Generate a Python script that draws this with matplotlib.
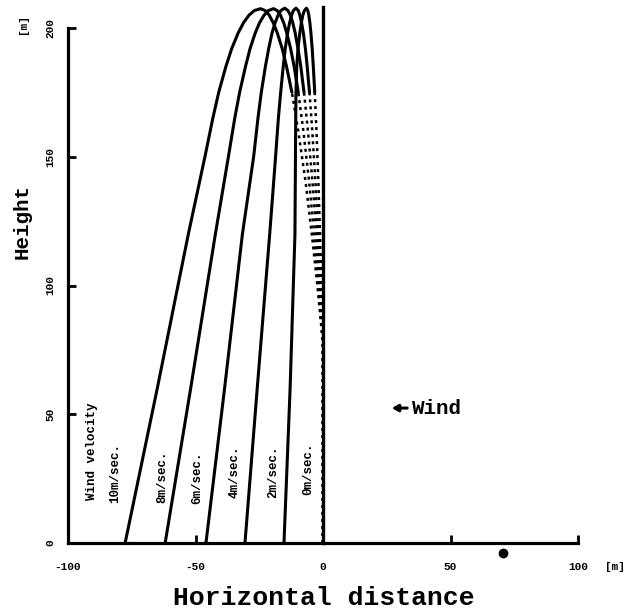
import numpy as np
import matplotlib
matplotlib.use("Agg")
import matplotlib.pyplot as plt

FONT = ["Liberation Mono", "DejaVu Sans Mono"]

# ---- data (metres) ----
wind_labels = ["10m/sec.", "8m/sec.", "6m/sec.", "4m/sec.", "2m/sec.", "0m/sec."]

# summits of the trajectories
peak_x = [-24.5, -19.4, -15.0, -10.6, -6.5]
peak_h = [207.5, 207.5, 207.7, 207.7, 207.7]

# descending (solid) branches: heights and horizontal positions
fall_h = [0, 60, 120, 150, 165, 175, 185, 192, 198, 202, 205, 206.8]
fall_x_10 = [-77.6, -65.0, -52.8, -46.3, -43.2, -40.9, -38.1, -35.8, -33.3, -31.2, -29.0, -26.9]
fall_x_8 = [-61.9, -51.9, -42.2, -37.1, -34.6, -32.7, -30.4, -28.6, -26.6, -24.9, -23.1, -21.35]
fall_x_6 = [-45.9, -38.6, -31.6, -27.2, -25.5, -24.2, -22.6, -21.3, -20.0, -18.8, -17.6, -16.5]
fall_x_4 = [-30.6, -25.8, -20.9, -18.6, -17.5, -16.6, -15.6, -14.8, -13.9, -13.1, -12.3, -11.6]
fall_x_2 = [-15.3, -12.9, -11.0, -10.8, -10.7, -10.6, -10.3, -9.8, -9.1, -8.5, -7.9, -7.3]

# ascending branches (hugging the launch pole, dotted low down)
rise_h = [0, 77, 100, 120, 140, 160, 175, 185, 192, 198, 202, 205, 206.8]
rise_x_10 = [0, 0, -2.2, -4.4, -6.8, -9.7, -12.2, -14.3, -16.0, -17.9, -19.5, -21.1, -22.7]
rise_x_8 = [0, 0, -1.8, -3.5, -5.4, -7.7, -9.7, -11.3, -12.7, -14.2, -15.4, -16.7, -18.0]
rise_x_6 = [0, 0, -1.3, -2.6, -4.1, -5.9, -7.45, -8.7, -9.8, -10.9, -11.85, -12.8, -13.75]
rise_x_4 = [0, 0, -0.95, -1.9, -2.95, -4.2, -5.3, -6.2, -6.9, -7.7, -8.4, -9.1, -9.7]
rise_x_2 = [0, 0, -0.58, -1.16, -1.8, -2.56, -3.24, -3.8, -4.24, -4.73, -5.14, -5.56, -5.96]

# zero wind: straight up and down
zero_h = [0, 208]
zero_x = [0, 0]

# label positions (x, h)
label_x = [-81.6, -63.1, -49.5, -34.5, -19.6, -5.9]
label_h = [27.2, 25.8, 25.4, 27.7, 27.7, 28.9]

x_ticks = [-100, -50, 0, 50, 100]
x_ticklabels = ["-100", "-50", "0", "50", "100"]
y_ticks = [0, 50, 100, 150, 200]
y_ticklabels = ["0", "50", "100", "150", "200"]

stray_dot = (70.6, -4.0)

# ---- figure ----
fig = plt.figure(figsize=(6.3, 6.14), dpi=100)
ax = fig.add_axes([68 / 630, 1 - 543 / 614, 510 / 630, 515 / 614])
ax.set_xlim(-100, 100)
ax.set_ylim(0, 200)

for s in ["top", "right"]:
    ax.spines[s].set_visible(False)
for s in ["left", "bottom"]:
    ax.spines[s].set_linewidth(2.3)

lw = 2.2
falls = [fall_x_10, fall_x_8, fall_x_6, fall_x_4, fall_x_2]
rises = [rise_x_10, rise_x_8, rise_x_6, rise_x_4, rise_x_2]
rh = np.array(rise_h)
for fx, rx, px, ph in zip(falls, rises, peak_x, peak_h):
    rxa = np.array(rx)
    upper = rh >= 175
    lower = rh <= 175
    # solid: descending branch, summit, and upper part of ascending branch
    xs = list(fx) + [px] + list(rxa[upper][::-1])
    hs = list(fall_h) + [ph] + list(rh[upper][::-1])
    ax.plot(xs, hs, color="black", lw=lw, clip_on=False,
            solid_capstyle="round", solid_joinstyle="round")
    ax.plot(rxa[lower], rh[lower], color="black", lw=1.8, clip_on=False,
            linestyle=(0, (1.2, 1.6)))

ax.plot(zero_x, zero_h, color="black", lw=2.4, clip_on=False)

ax.plot([stray_dot[0]], [stray_dot[1]], "o", color="black", ms=6, clip_on=False)

# ticks
ax.set_xticks(x_ticks)
ax.set_xticklabels(x_ticklabels)
ax.set_yticks(y_ticks)
ax.set_yticklabels(y_ticklabels, rotation=90, va="center")
ax.tick_params(axis="both", direction="in", length=6, width=2)
ax.tick_params(axis="x", pad=14)
ax.tick_params(axis="y", pad=9)
for lab in ax.get_xticklabels() + ax.get_yticklabels():
    lab.set_fontfamily(FONT)
    lab.set_fontweight("bold")
    lab.set_fontsize(8)

# curve labels
ax.text(-90.6, 35.5, "Wind velocity", rotation=90, ha="center", va="center",
        family=FONT, fontweight="bold", fontsize=9)
for lx, lhh, t in zip(label_x, label_h, wind_labels):
    ax.text(lx, lhh, t, rotation=90, ha="center", va="center",
            family=FONT, fontweight="bold", fontsize=9)

# wind arrow and label
ax.annotate("", xy=(27.0, 52.4), xytext=(33.0, 52.4),
            arrowprops=dict(arrowstyle="-|>,head_length=0.35,head_width=0.2",
                            lw=2.2, color="black", shrinkA=0, shrinkB=0),
            annotation_clip=False)
ax.text(35.0, 52.4, "Wind", ha="left", va="center",
        family=FONT, fontweight="bold", fontsize=15)

# axis titles and units
fig.text(324 / 630, 1 - 598 / 614, "Horizontal distance", ha="center", va="center",
         family=FONT, fontweight="bold", fontsize=19)
fig.text(22 / 630, 1 - 222 / 614, "Height", rotation=90, ha="center", va="center",
         family=FONT, fontweight="bold", fontsize=15)
fig.text(23 / 630, 1 - 24 / 614, "[m]", rotation=90, ha="center", va="center",
         family=FONT, fontweight="bold", fontsize=8)
fig.text(615 / 630, 1 - 567 / 614, "[m]", ha="center", va="center",
         family=FONT, fontweight="bold", fontsize=8)

fig.savefig("out.png", dpi=100, facecolor="white")
